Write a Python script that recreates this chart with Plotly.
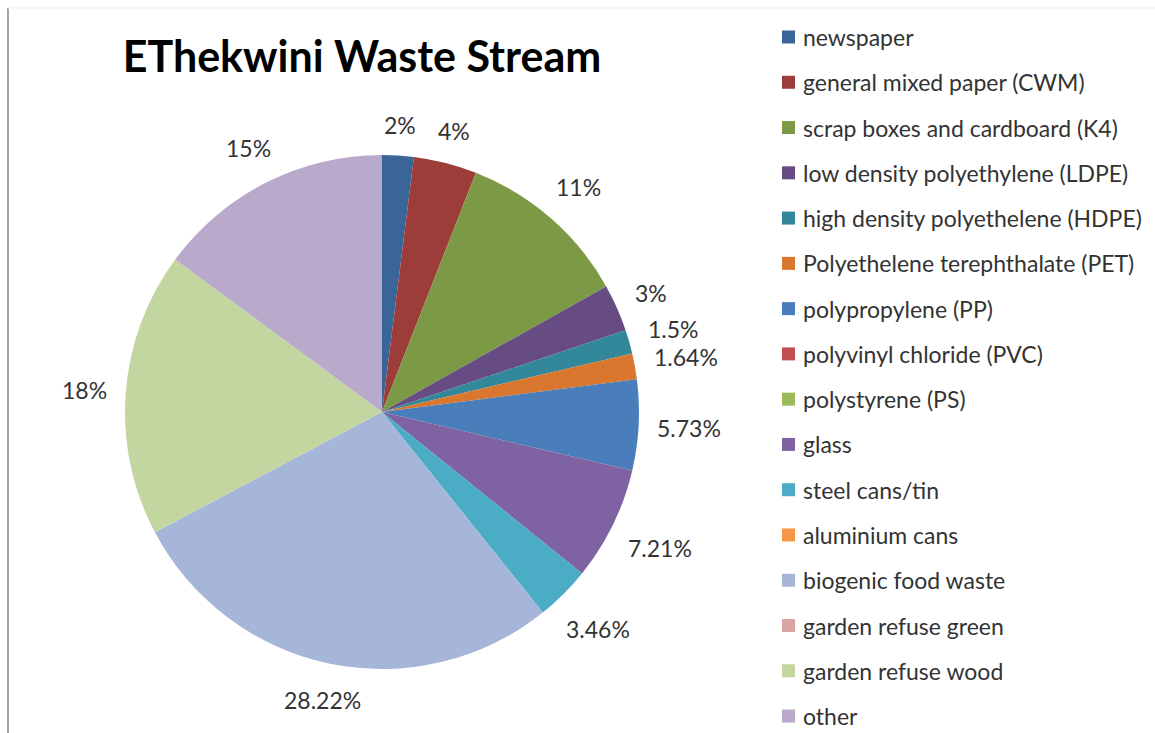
import math
import plotly.graph_objects as go

# Waste stream composition (percent share of each category)
categories = [
    "newspaper",
    "general mixed paper (CWM)",
    "scrap boxes and cardboard (K4)",
    "low density polyethylene (LDPE)",
    "high density polyethelene (HDPE)",
    "Polyethelene terephthalate (PET)",
    "polypropylene (PP)",
    "polyvinyl chloride (PVC)",
    "polystyrene (PS)",
    "glass",
    "steel cans/tin",
    "aluminium cans",
    "biogenic food waste",
    "garden refuse green",
    "garden refuse wood",
    "other",
]
shares = [2, 4, 11, 3, 1.5, 1.64, 5.73, 0, 0, 7.21, 3.46, 0, 28.22, 0, 18, 15]
share_labels = ["2%", "4%", "11%", "3%", "1.5%", "1.64%", "5.73%", "", "", "7.21%",
                "3.46%", "", "28.22%", "", "18%", "15%"]
colors = [
    "#3A6598", "#9C3D3A", "#7C9A45", "#664C82", "#33879B", "#D9772E",
    "#4A7EBB", "#C0504D", "#9BBB59", "#7F62A1", "#4BACC6", "#F79646",
    "#A6B6D8", "#DBA3A2", "#C4D6A0", "#B9A9CB",
]

W, H = 1155, 733
TEXT_FONT = "Lato"
LABEL_SIZE = 23
LEGEND_SIZE = 23

fig = go.Figure()

# pie occupies a square box in pixel terms, converted to paper fractions
pie_left, pie_top, pie_size = 125, 155, 514
fig.add_trace(go.Pie(
    labels=categories,
    values=shares,
    text=share_labels,
    textinfo="none",
    sort=False,
    direction="clockwise",
    rotation=0,
    marker=dict(colors=colors, line=dict(width=0)),
    showlegend=False,
    hoverinfo="label+text",
    domain=dict(
        x=[pie_left / W, (pie_left + pie_size) / W],
        y=[(H - pie_top - pie_size) / H, (H - pie_top) / H],
    ),
))

shapes = []
annotations = []

# data labels set just outside each slice, at the slice's middle angle
cx, cy, radius = pie_left + pie_size / 2, pie_top + pie_size / 2, pie_size / 2
gap = 18
char_w = {".": 0.25, "%": 0.8}
total = sum(shares)
running = 0.0
for value, label in zip(shares, share_labels):
    mid = (running + value / 2) / total * 2 * math.pi
    running += value
    if not label:
        continue
    half_w = LABEL_SIZE * sum(char_w.get(c, 0.58) for c in label) / 2
    half_h = LABEL_SIZE / 2
    sx, sy = math.sin(mid), math.cos(mid)
    dist = radius + gap + half_w * abs(sx) + half_h * abs(sy)
    px, py = cx + dist * sx, cy - dist * sy
    annotations.append(dict(
        text=label, xref="paper", yref="paper",
        x=px / W, y=1 - py / H, xanchor="center", yanchor="middle",
        showarrow=False,
        font=dict(family=TEXT_FONT, size=LABEL_SIZE, color="#333333"),
    ))

# legend drawn as swatches plus text, one row per category
legend_x, legend_y0, legend_step, swatch = 782, 37, 45.27, 13
for i, (name, col) in enumerate(zip(categories, colors)):
    yc = legend_y0 + i * legend_step
    shapes.append(dict(
        type="rect", xref="paper", yref="paper",
        x0=legend_x / W, x1=(legend_x + swatch) / W,
        y0=1 - (yc + swatch / 2) / H, y1=1 - (yc - swatch / 2) / H,
        fillcolor=col, line=dict(width=0),
    ))
    annotations.append(dict(
        text=name, xref="paper", yref="paper",
        x=(legend_x + swatch + 6) / W, y=1 - yc / H,
        xanchor="left", yanchor="middle", showarrow=False,
        font=dict(family=TEXT_FONT, size=LEGEND_SIZE, color="#333333"),
    ))

# frame edges of the chart area
shapes.append(dict(type="line", xref="paper", yref="paper",
                   x0=8 / W, x1=8 / W, y0=0, y1=1 - 8 / H,
                   line=dict(color="#A6A6A6", width=2)))
shapes.append(dict(type="line", xref="paper", yref="paper",
                   x0=8 / W, x1=1, y0=1 - 8 / H, y1=1 - 8 / H,
                   line=dict(color="#EFEFEF", width=1)))

fig.update_layout(
    width=W, height=H,
    margin=dict(l=0, r=0, t=0, b=0),
    paper_bgcolor="white",
    plot_bgcolor="white",
    title=dict(
        text="<b>EThekwini Waste Stream</b>",
        x=362 / W, xanchor="center", xref="paper",
        y=1 - 57 / H, yanchor="middle", yref="paper",
        font=dict(family=TEXT_FONT, size=43, color="#000000"),
    ),
    shapes=shapes,
    annotations=annotations,
)

fig.write_html("out.html")
